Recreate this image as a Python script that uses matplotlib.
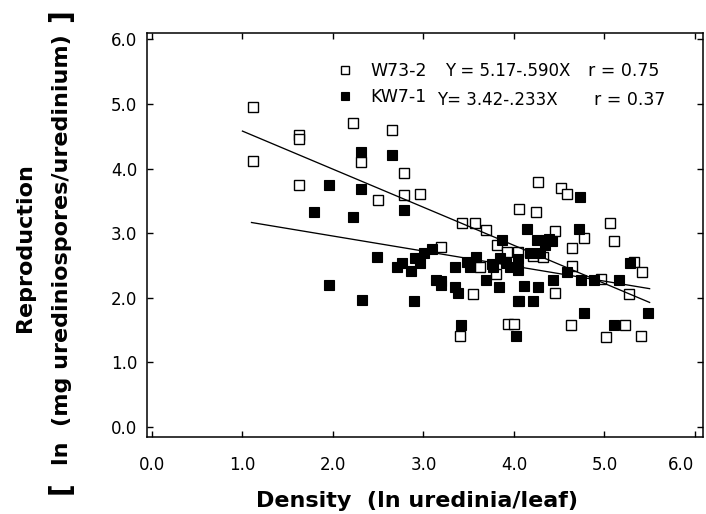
import matplotlib
matplotlib.use("Agg")
import matplotlib.pyplot as plt
import matplotlib.transforms as mtransforms
import numpy as np
from matplotlib.ticker import FixedLocator, FormatStrFormatter

# ---- data -------------------------------------------------------------
# W73-2 (open squares)
w_x = [1.12, 1.12, 1.62, 1.62, 1.62, 2.22, 2.31, 2.65, 2.78, 2.78, 2.96, 2.50,
       3.43, 3.57, 3.69, 3.19, 3.81, 3.92, 4.04, 4.06, 4.24, 4.27, 4.52, 4.59,
       4.45, 4.21, 4.32, 4.64, 4.64, 4.77, 5.06, 5.11, 5.33, 5.42, 5.27, 4.96,
       4.45, 4.63, 5.02, 5.23, 5.40, 3.94, 4.00, 3.40, 3.55, 3.63, 3.80]
w_y = [4.95, 4.12, 4.52, 4.46, 3.74, 4.70, 4.10, 4.59, 3.93, 3.59, 3.61, 3.52,
       3.15, 3.16, 3.05, 2.78, 2.81, 2.71, 2.71, 3.37, 3.32, 3.79, 3.70, 3.60,
       3.03, 2.64, 2.63, 2.77, 2.49, 2.92, 3.16, 2.88, 2.55, 2.39, 2.05, 2.29,
       2.07, 1.57, 1.39, 1.58, 1.40, 1.59, 1.59, 1.40, 2.06, 2.48, 2.37]

# KW7-1 (filled squares)
k_x = [2.31, 2.65, 1.96, 2.31, 1.79, 2.22, 2.78, 2.49, 2.76, 2.71, 2.86, 2.91,
       2.96, 3.01, 3.09, 1.96, 2.32, 2.90, 3.14, 3.19, 3.19, 3.35, 3.35, 3.38,
       3.41, 3.48, 3.51, 3.58, 3.69, 3.76, 3.77, 3.87, 3.85, 3.91, 3.96, 4.04,
       4.04, 3.84, 4.04, 4.06, 4.02, 4.11, 4.14, 4.25, 4.35, 4.39, 4.42, 4.34,
       4.18, 4.29, 4.27, 4.21, 4.43, 4.59, 4.73, 4.72, 4.74, 4.77, 4.89, 5.16,
       5.11, 5.28, 5.48]
k_y = [4.25, 4.21, 3.74, 3.69, 3.33, 3.25, 3.36, 2.63, 2.54, 2.47, 2.41, 2.62,
       2.54, 2.69, 2.75, 2.19, 1.96, 1.95, 2.28, 2.26, 2.19, 2.47, 2.17, 2.07,
       1.58, 2.55, 2.47, 2.63, 2.28, 2.52, 2.48, 2.89, 2.61, 2.53, 2.47, 2.42,
       2.60, 2.17, 1.95, 1.95, 1.40, 2.18, 3.07, 2.90, 2.90, 2.91, 2.88, 2.82,
       2.69, 2.69, 2.16, 1.95, 2.28, 2.39, 3.56, 3.07, 2.28, 1.76, 2.28, 2.28,
       1.57, 2.54, 1.76]

# regression lines (intercept, slope) and x extent
w_coef = (5.17, -0.590)
k_coef = (3.42, -0.233)
w_range = (1.0, 5.5)
k_range = (1.1, 5.5)

series_names = ["W73-2", "KW7-1"]
equations = ["Y = 5.17-.590X", "Y= 3.42-.233X"]
r_texts = ["r = 0.75", "r = 0.37"]

tick_vals = [0, 1, 2, 3, 4, 5, 6]
inner_ticks = [1, 2, 3, 4, 5]

x_label = "Density  (ln uredinia/leaf)"
y_label1 = "Reproduction"
y_label2 = "ln  (mg urediniospores/uredinium)"

# ---- figure -----------------------------------------------------------
W, H = 706, 514
fig = plt.figure(figsize=(W / 100, H / 100), dpi=100)
fig.patch.set_facecolor("white")
L, R, T, B = 147, 703, 33, 437
ax = fig.add_axes([L / W, 1 - B / H, (R - L) / W, (B - T) / H])

ax.set_xlim(-0.055, 6.09)
ax.set_ylim(-0.16, 6.10)

# data
w_sc, = ax.plot(w_x, w_y, linestyle="none", marker="s", markersize=6.6,
                markerfacecolor="white", markeredgecolor="black",
                markeredgewidth=1.0, zorder=3)
k_sc, = ax.plot(k_x, k_y, linestyle="none", marker="s", markersize=6.8,
                markerfacecolor="black", markeredgecolor="black",
                markeredgewidth=0.8, zorder=4)

for coef, rng in [(w_coef, w_range), (k_coef, k_range)]:
    xs = np.array(rng)
    ax.plot(xs, coef[0] + coef[1] * xs, color="black", lw=0.95, zorder=5)

# spines / ticks
for s in ax.spines.values():
    s.set_linewidth(1.1)
ax.xaxis.set_major_locator(FixedLocator(tick_vals))
ax.yaxis.set_major_locator(FixedLocator(tick_vals))
ax.xaxis.set_minor_locator(FixedLocator(inner_ticks))
ax.yaxis.set_minor_locator(FixedLocator(inner_ticks))
ax.xaxis.set_major_formatter(FormatStrFormatter("%.1f"))
ax.yaxis.set_major_formatter(FormatStrFormatter("%.1f"))
ax.tick_params(which="both", direction="in", top=True, right=True, width=1.0)
ax.tick_params(which="major", length=4)
ax.tick_params(which="minor", length=10)
ax.tick_params(axis="x", which="major", pad=14, labelsize=12)
ax.tick_params(axis="y", which="major", pad=7, labelsize=12)

# nudge last x tick label inside the figure
fig.canvas.draw()
last = ax.xaxis.get_major_ticks()[-1].label1
last.set_transform(last.get_transform() +
                   mtransforms.ScaledTranslation(-10 / 72, 0, fig.dpi_scale_trans))

# legend (markers + series names)
leg = ax.legend([w_sc, k_sc], series_names, loc="upper left",
                bbox_to_anchor=(336 / W, 1 - 62 / H),
                bbox_transform=fig.transFigure, frameon=False,
                fontsize=12.5, handlelength=1.0, handletextpad=1.0,
                borderpad=0, borderaxespad=0, labelspacing=0.45,
                markerscale=0.8)

ys = [71.5, 100]
eq_x = [445, 437]
r_x = [588, 594]
for i in range(2):
    fig.text(eq_x[i] / W, 1 - ys[i] / H, equations[i], fontsize=12,
             ha="left", va="center")
    fig.text(r_x[i] / W, 1 - ys[i] / H, r_texts[i], fontsize=12.5,
             ha="left", va="center")

# axis labels
fig.text(417 / W, 1 - 501 / H, x_label, fontsize=16, fontweight="bold",
         ha="center", va="center")
fig.text(25 / W, 1 - 248 / H, y_label1, fontsize=16, fontweight="bold",
         ha="center", va="center", rotation=90)
fig.text(62 / W, 1 - 250 / H, y_label2, fontsize=16, fontweight="bold",
         ha="center", va="center", rotation=90)
fig.text(61 / W, 1 - 488 / H, "[", fontsize=20, fontweight="bold",
         ha="center", va="center", rotation=90)
fig.text(61 / W, 1 - 16 / H, "]", fontsize=20, fontweight="bold",
         ha="center", va="center", rotation=90)

fig.savefig("out.png", dpi=100, facecolor="white")
